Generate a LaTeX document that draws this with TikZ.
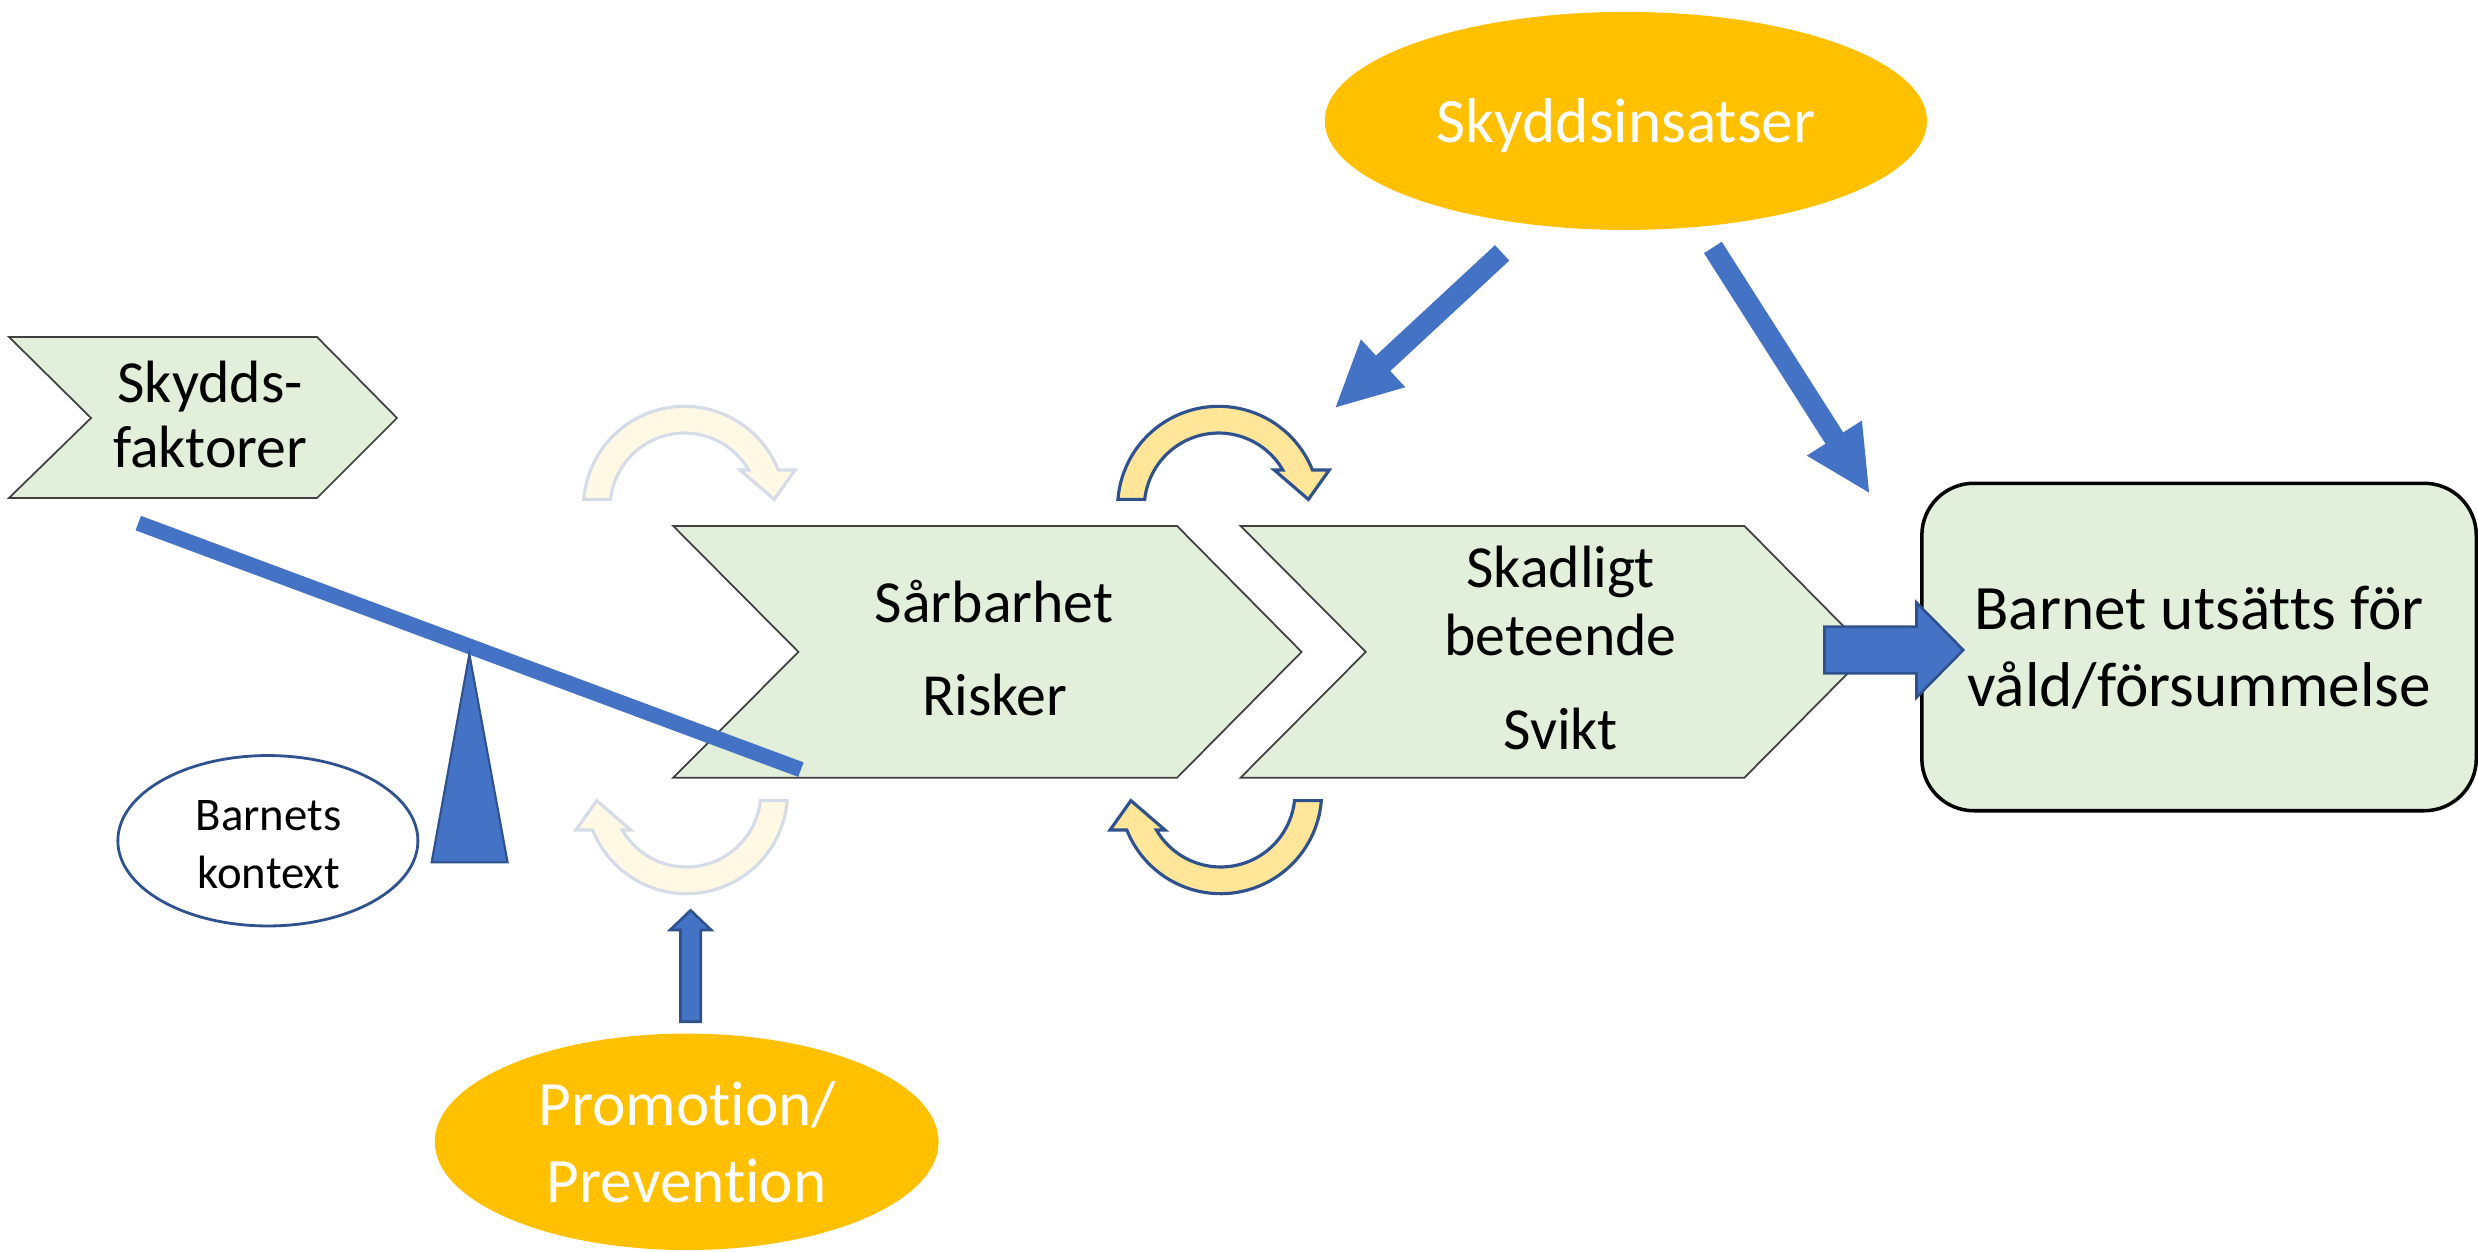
\documentclass[tikz,border=0pt]{standalone}
\usepackage{fontspec}
\setmainfont{Carlito}[RawFeature=-liga]
\usetikzlibrary{shapes.geometric,calc}
\definecolor{pblue}{HTML}{4472C4}
\definecolor{pdark}{HTML}{2F528F}
\definecolor{pgold}{HTML}{FFC000}
\definecolor{pgreen}{HTML}{E2EFDA}
\definecolor{pyellow}{HTML}{FFE699}
\definecolor{fadefill}{HTML}{FFF8E5}
\definecolor{fadeline}{HTML}{D5DCE8}
\definecolor{chevline}{HTML}{404040}
% block arrow: style, from, tip, shaft half width, head half width, head length
\newcommand{\blkarrow}[6]{%
  \coordinate (#2-#3-b) at ($(#3)!#6!(#2)$);
  \path[#1] ($(#2)!#4!90:(#3)$) -- ($(#2-#3-b)!#4!90:(#3)$) -- ($(#2-#3-b)!#5!90:(#3)$)
    -- (#3) -- ($(#2-#3-b)!#5!-90:(#3)$) -- ($(#2-#3-b)!#4!-90:(#3)$) -- ($(#2)!#4!-90:(#3)$) -- cycle;
}
\tikzset{
  curvearr/.pic={
    \path[pic actions] plot[domain=4.5:158.3,samples=50] ({63.9*cos(\x)},{63.9*sin(\x)})
      -- (-70,23.6) -- (-56.8,5) -- (-35.2,23.6)
      -- plot[domain=149.9:6.1,samples=50] ({47*cos(\x)},{47*sin(\x)}) -- cycle;
  },
  chev/.style={draw=chevline, line width=0.5pt, fill=pgreen, line join=miter},
  solidarr/.style={fill=pyellow, draw=pdark, line width=0.9pt},
  fadearr/.style={fill=fadefill, draw=fadeline, line width=0.9pt},
  goldell/.style={ellipse, fill=pgold, draw=none, inner sep=0pt, outer sep=0pt},
  ctxell/.style={ellipse, fill=white, draw=pdark, line width=0.8pt, inner sep=0pt},
  boxnode/.style={rectangle, rounded corners=14.8pt, fill=pgreen, draw=black, line width=1pt,
    minimum width=157.8pt, minimum height=93.2pt, inner sep=0pt},
  tsev/.style={anchor=base, inner sep=0pt, font=\fontsize{17}{20}\selectfont},
  teig/.style={anchor=base, inner sep=0pt, font=\fontsize{18}{22}\selectfont},
  teigw/.style={teig, text=white},
  tthi/.style={anchor=base, inner sep=0pt, font=\fontsize{13.3}{16}\selectfont},
}
\begin{document}
\begin{tikzpicture}[x=0.015804cm, y=-0.015804cm]
\useasboundingbox (0,0) rectangle (1568,791.6);

% chevrons
\draw[chev] (5.7,213.2) -- (200.6,213.2) -- (251.2,264.5) -- (200.6,315.1) -- (5.7,315.1) -- (57.6,264.5) -- cycle;
\draw[chev] (426,332.8) -- (744.8,332.8) -- (823.6,412.5) -- (744.8,492.1) -- (426,492.1) -- (505.2,412.5) -- cycle;
\draw[chev] (785,332.8) -- (1103.8,332.8) -- (1182.6,412.5) -- (1103.8,492.1) -- (785,492.1) -- (864.2,412.5) -- cycle;

% outcome box
\node[boxnode] (barnet) at (1391.5,409.4) {};

% ellipses
\node[goldell, minimum width=171.4pt, minimum height=62.05pt] (skin) at (1028.8,76.5) {};
\node[goldell, minimum width=143.4pt, minimum height=61.6pt] (promo) at (434.5,722.5) {};
\node[ctxell, minimum width=85.4pt, minimum height=48.5pt] (ctx) at (169.5,532) {};

% seesaw
\coordinate (beamL) at (87.5,331);
\coordinate (beamR) at (506.8,487);
\draw[pblue, line width=4.4pt] (beamL) -- (beamR);
\coordinate (fulA) at (297,414);
\coordinate (fulB) at (321.2,545.7);
\coordinate (fulC) at (273.1,545.7);
\draw[fill=pblue, draw=pdark, line width=0.6pt] (fulA) -- (fulB) -- (fulC) -- cycle;

% curved arrows
\pic[fadearr, rotate=180] (crTL) at (433.1,321.0) {curvearr};
\pic[fadearr] (crBL) at (434.4,501.6) {curvearr};
\pic[solidarr, rotate=180] (crTR) at (771.1,321.0) {curvearr};
\pic[solidarr] (crBR) at (772.4,501.6) {curvearr};

% straight arrows
\coordinate (sL0) at (950.5,160);
\coordinate (sL1) at (845.2,257.7);
\coordinate (sR0) at (1083.85,156.6);
\coordinate (sR1) at (1182.7,311.7);
\coordinate (bR0) at (1154.5,411.3);
\coordinate (bR1) at (1242.3,411.3);
\coordinate (up0) at (437,646.5);
\coordinate (up1) at (437,576);
\blkarrow{fill=pblue}{sL0}{sL1}{3.0pt}{9.3pt}{18.4pt}
\blkarrow{fill=pblue}{sR0}{sR1}{3.0pt}{9.3pt}{18.4pt}
\blkarrow{fill=pblue,draw=pdark,line width=0.75pt,line join=miter}{bR0}{bR1}{6.63pt}{13.5pt}{13.3pt}
\blkarrow{fill=pblue,draw=pdark,line width=0.75pt,line join=miter}{up0}{up1}{2.88pt}{5.85pt}{5.6pt}

% texts
\node[tsev] (tSk1) at (133,254.4) {Skydds-};
\node[tsev] (tSk2) at (133,295.5) {faktorer};
\node[tsev] (tSa1) at (629,393.8) {Sårbarhet};
\node[tsev] (tSa2) at (629.5,452.8) {Risker};
\node[tsev] (tSd1) at (987.5,372) {Skadligt};
\node[tsev] (tSd2) at (987.5,415) {beteende};
\node[tsev] (tSd3) at (987.5,474) {Svikt};
\node[teig] (tB1) at (1391.5,398.6) {Barnet utsätts för};
\node[teig] (tB2) at (1391.5,447.2) {våld/försummelse};
\node[teigw] (tS) at (1029,90) {Skyddsinsatser};
\node[teigw] (tP1) at (435,712) {Promot\kern0pt ion/};
\node[teigw] (tP2) at (434.5,760.6) {Prevent\kern0pt ion};
\node[tthi] (tC1) at (170,525.6) {Barnets};
\node[tthi] (tC2) at (170,561.9) {kontext};
\end{tikzpicture}
\end{document}
